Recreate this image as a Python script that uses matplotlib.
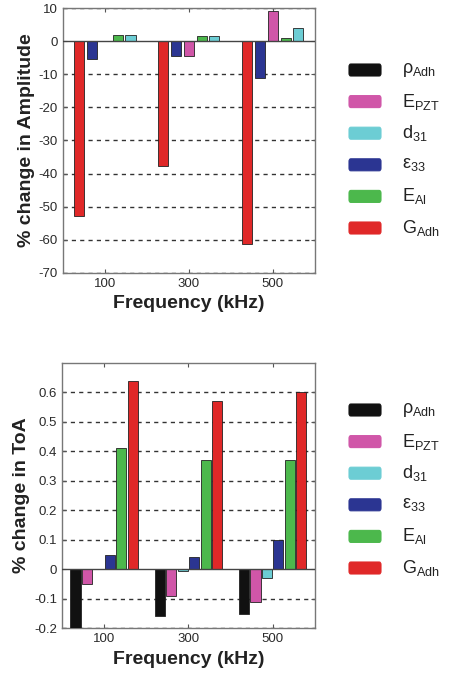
import numpy as np
import matplotlib
matplotlib.use('Agg')
import matplotlib.pyplot as plt
from matplotlib.patches import FancyBboxPatch

plt.rcParams['font.family'] = ['Liberation Sans', 'DejaVu Sans']
plt.rcParams['mathtext.fontset'] = 'custom'
plt.rcParams['mathtext.rm'] = 'Liberation Sans'
plt.rcParams['mathtext.it'] = 'Liberation Sans'
plt.rcParams['mathtext.bf'] = 'Liberation Sans:bold'

freqs = ['100', '300', '500']

# legend order
names = ['rho', 'E_PZT', 'd31', 'eps33', 'E_Al', 'G_Adh']
labels = [r'$\mathrm{\rho_{Adh}}$', r'$\mathrm{E_{PZT}}$', r'$\mathrm{d_{31}}$',
          r'$\mathrm{\varepsilon_{33}}$', r'$\mathrm{E_{Al}}$', r'$\mathrm{G_{Adh}}$']
colors = {'rho': '#111111', 'E_PZT': '#d056a8', 'd31': '#6ccdd4',
          'eps33': '#2b3592', 'E_Al': '#4cb84c', 'G_Adh': '#e02828'}

# % change in amplitude (bar order as drawn)
amp_order = ['G_Adh', 'eps33', 'E_PZT', 'E_Al', 'd31']
amp = {
    'G_Adh': [-52.7, -37.7, -61.3],
    'eps33': [-5.5, -4.4, -11.0],
    'E_PZT': [0.0, -4.4, 9.1],
    'E_Al': [1.9, 1.5, 1.1],
    'd31': [1.9, 1.5, 3.9],
}

# % change in time of arrival
toa_order = ['rho', 'E_PZT', 'd31', 'eps33', 'E_Al', 'G_Adh']
toa = {
    'rho': [-0.21, -0.16, -0.15],
    'E_PZT': [-0.05, -0.09, -0.11],
    'd31': [0.0, -0.005, -0.03],
    'eps33': [0.05, 0.04, 0.10],
    'E_Al': [0.41, 0.37, 0.37],
    'G_Adh': [0.64, 0.57, 0.60],
}

fig = plt.figure(figsize=(4.53, 6.77), dpi=100)
ax1 = fig.add_axes([0.139, 0.597, 0.556, 0.391])
ax2 = fig.add_axes([0.137, 0.072, 0.558, 0.392])

def grouped(ax, order, data, step, width, yticks, ylim, ylabel):
    x = np.arange(1, len(freqs) + 1)
    n = len(order)
    for i, k in enumerate(order):
        off = (i - (n - 1) / 2) * step
        ax.bar(x + off, data[k], width, color=colors[k], edgecolor='#222222',
               linewidth=0.6, zorder=3)
    ax.set_xlim(0.5, 3.5)
    ax.set_ylim(*ylim)
    ax.set_xticks(x)
    ax.set_xticklabels(freqs)
    ax.set_yticks(yticks)
    for t in yticks:
        if t != 0:
            ax.axhline(t, color='#333333', linestyle=(0, (3, 3)), linewidth=1.0, zorder=1)
    ax.axhline(0, color='#444444', linewidth=1.0, zorder=4)
    ax.tick_params(direction='in', top=True, right=True, length=3, labelsize=9.5,
                   labelcolor='#2a2a2a', color='#555555')
    for s in ax.spines.values():
        s.set_color('#777777')
        s.set_linewidth(1.0)
    ax.set_xlabel('Frequency (kHz)', fontsize=14, fontweight='bold', color='#222222', labelpad=4)
    ax.set_ylabel(ylabel, fontsize=14, fontweight='bold', color='#222222', labelpad=3)

grouped(ax1, amp_order, amp, 0.152, 0.12, np.arange(-70, 11, 10), (-70, 10),
        '% change in Amplitude')
ax1.set_yticklabels([str(v) for v in np.arange(-70, 11, 10)])

toa_ticks = np.round(np.arange(-0.2, 0.61, 0.1), 1)
grouped(ax2, toa_order, toa, 0.136, 0.12, toa_ticks, (-0.2, 0.7), '% change in ToA')
ax2.set_yticklabels(['0' if v == 0 else ('%.1f' % v) for v in toa_ticks])

W, H = 453.0, 677.0
def legend(y0):
    for i, (k, lab) in enumerate(zip(names, labels)):
        yc = y0 + i * 31.6
        p = FancyBboxPatch((349 / W, 1 - (yc + 6) / H), 32 / W, 12 / H,
                           boxstyle='round,pad=0,rounding_size=0.004',
                           transform=fig.transFigure, facecolor=colors[k],
                           edgecolor=colors[k], linewidth=0.8)
        fig.add_artist(p)
        fig.text(402 / W, 1 - yc / H, lab, fontsize=13, color='#222222',
                 va='center', ha='left')

legend(70)
legend(410)

fig.savefig('out.png', dpi=100)
